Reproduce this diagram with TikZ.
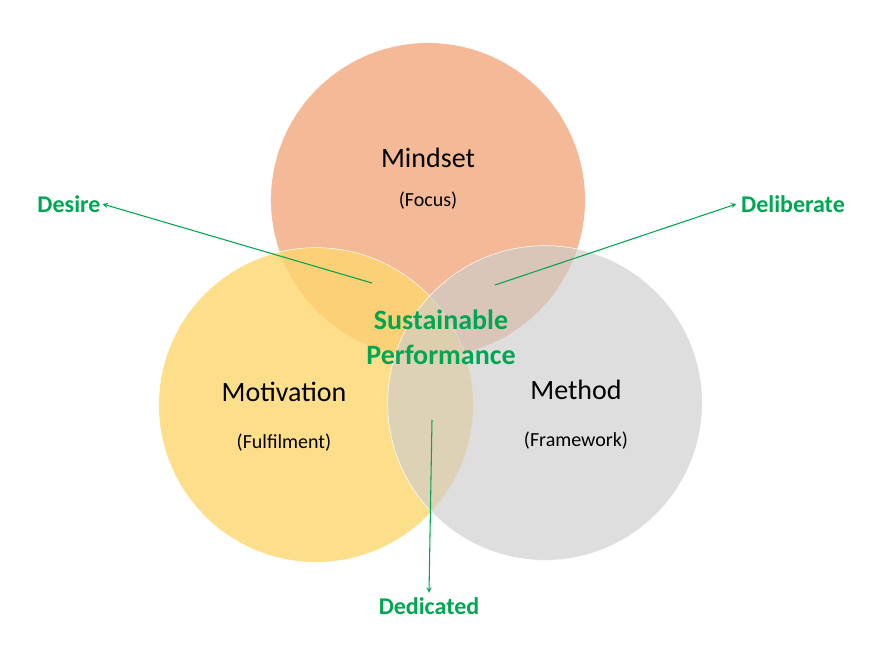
\documentclass[tikz,border=0pt]{standalone}
\usepackage{fontspec}
\setmainfont{Carlito}
\usetikzlibrary{positioning}
\definecolor{mindcol}{RGB}{244,185,150}
\definecolor{motcol}{RGB}{253,214,110}
\definecolor{methcol}{RGB}{205,205,205}
\definecolor{arrgreen}{RGB}{0,166,81}

\begin{document}
\begin{tikzpicture}[x=0.75pt,y=-0.75pt,
    ringnode/.style={circle, minimum size=236pt, inner sep=0pt, draw=white, thin},
    titletext/.style={font=\fontsize{21}{24}\selectfont},
    subtext/.style={font=\fontsize{15}{18}\selectfont},
    greenlabel/.style={text=arrgreen, font=\bfseries\fontsize{18}{21}\selectfont},
    greenarrow/.style={->, >=stealth, thick, draw=arrgreen}]
        \useasboundingbox (0,0) rectangle (886,653);
        \node[ringnode, fill=mindcol] (mindset) at (428,200) {};
        \node[ringnode, fill=motcol, fill opacity=0.8] (motivation) at (316,405) {};
        \node[ringnode, fill=methcol, fill opacity=0.65] (method) at (545,403) {};

        \node[titletext] (mindtitle) at (428,158) {Mindset};
        \node[subtext] (mindsub) at (428,201) {(Focus)};
        \node[titletext] (mottitle) at (284,392) {Motivation};
        \node[subtext] (motsub) at (284,443) {(Fulfilment)};
        \node[titletext] (methtitle) at (576,390) {Method};
        \node[subtext] (methsub) at (576,441) {(Framework)};

        \node[greenlabel, align=center, font=\bfseries\fontsize{21}{26}\selectfont] (core) at (441,337) {Sustainable\\Performance};

        \coordinate (deslink) at (372,283);
        \coordinate (dellink) at (495,285);
        \coordinate (dedlink) at (432,420);
        \node[greenlabel] (desire) at (69,204) {Desire};
        \node[greenlabel] (deliberate) at (793,204) {Deliberate};
        \node[greenlabel] (dedicated) at (429,606) {Dedicated};

        \draw[greenarrow] (deslink) -- ([xshift=-2pt]desire.east);
        \draw[greenarrow] (dellink) -- (deliberate.west);
        \draw[greenarrow] (dedlink) -- (dedicated.north);
    \end{tikzpicture}
\end{document}
